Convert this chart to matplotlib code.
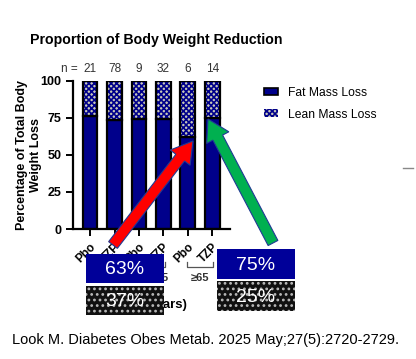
import matplotlib
matplotlib.use("Agg")
import matplotlib.pyplot as plt
from matplotlib.patches import Rectangle, FancyArrow
import numpy as np

plt.rcParams['font.family'] = ['Liberation Sans', 'DejaVu Sans']
plt.rcParams['hatch.linewidth'] = 1.2

treatments = ["Pbo", "TZP", "Pbo", "TZP", "Pbo", "TZP"]
n_values = [21, 78, 9, 32, 6, 14]
fat_loss = [76, 73.5, 74, 74, 62, 75]
lean_loss = [100 - v for v in fat_loss]
age_groups = ["<50", "50-<65", "\u226565"]
callout_fat = ["63%", "75%"]
callout_lean = ["37%", "25%"]

W, H = 416, 359
fig = plt.figure(figsize=(W / 100, H / 100), dpi=100)

def fx(px):
    return px / W

def fy(py):
    return 1 - py / H

ax_w = 230 - 73
ax = fig.add_axes([fx(73), fy(229), fx(230) - fx(73), fy(80.7) - fy(229)])
x = np.arange(len(treatments))
navy = "#00008B"
lean_face = "#c8c8b8"
ax.bar(x, fat_loss, width=0.6, color=navy, edgecolor="black", linewidth=1.6, zorder=2)
ax.bar(x, lean_loss, bottom=fat_loss, width=0.6, color=lean_face, edgecolor=navy,
       hatch="xxxxxx", linewidth=0, zorder=2)
ax.bar(x, lean_loss, bottom=fat_loss, width=0.6, color="none", edgecolor="black",
       linewidth=1.6, zorder=3)
ax.set_xlim(-0.7, 5.73)
ax.set_ylim(0, 100)
ax.set_yticks([0, 25, 50, 75, 100])
ax.set_yticklabels(["0", "25", "50", "75", "100"], fontweight="bold", fontsize=9)
ax.set_xticks(x)
ax.set_xticklabels(treatments, rotation=45, ha="right", rotation_mode="anchor",
                   fontweight="bold", fontsize=8.5)
for s in ["top", "right"]:
    ax.spines[s].set_visible(False)
for s in ["left", "bottom"]:
    ax.spines[s].set_linewidth(1.6)
ax.tick_params(axis="both", width=1.4, length=5)
ax.set_ylabel("Percentage of Total Body\nWeight Loss", fontweight="bold", fontsize=9,
              linespacing=1.25)
ax.yaxis.set_label_coords((42 - 73) / ax_w, 0.5)

# n row
ax.text(-0.5, 1.04, "n =", transform=ax.get_xaxis_transform(), ha="right",
        va="bottom", fontsize=8.5, color="#333333")
for xi, n in zip(x, n_values):
    ax.text(xi, 1.04, str(n), transform=ax.get_xaxis_transform(), ha="center",
            va="bottom", fontsize=8.5, color="#333333")

# Group brackets and labels
for gi, g in enumerate(age_groups):
    x0, x1 = 2 * gi - 0.05, 2 * gi + 1.05
    ytr = ax.get_xaxis_transform()
    yb = -0.255
    ax.plot([x0, x0, x1, x1], [yb + 0.03, yb, yb, yb + 0.03], transform=ytr,
            color="#555555", lw=0.9, clip_on=False)
    ax.text((x0 + x1) / 2, yb - 0.045, g, transform=ytr, ha="center", va="top",
            fontsize=8, fontweight="bold", color="#333333")
ax.text(2.5, -0.47, "Age (years)", transform=ax.get_xaxis_transform(), ha="center",
        va="top", fontsize=9.5, fontweight="bold")

# Legend
ax.legend(handles=[Rectangle((0, 0), 1, 1, facecolor=navy, edgecolor="black", lw=1.2),
                   Rectangle((0, 0), 1, 1, facecolor=lean_face, edgecolor=navy, hatch="xxxxxx", lw=0)],
          labels=["Fat Mass Loss", "Lean Mass Loss"], loc="upper left",
          bbox_to_anchor=(fx(253), fy(76)), bbox_transform=fig.transFigure,
          frameon=False, fontsize=8.7, handlelength=1.2, handleheight=0.6,
          labelspacing=0.8, handletextpad=0.8)

fig.text(fx(30), fy(40), "Proportion of Body Weight Reduction", fontsize=10.2,
         fontweight="bold", ha="left", va="center")
fig.text(fx(12), fy(340), "Look M. Diabetes Obes Metab. 2025 May;27(5):2720-2729.",
         fontsize=10.5, ha="left", va="center")

# Overlay in pixel coords
ov = fig.add_axes([0, 0, 1, 1], facecolor="none")
ov.set_xlim(0, W)
ov.set_ylim(H, 0)
ov.axis("off")

ov.plot([403, 413], [168, 168], color="#888888", lw=1)

def arrow(x0, y0, x1, y1, color):
    ov.add_patch(FancyArrow(x0, y0, x1 - x0, y1 - y0, width=11, head_width=25,
                            head_length=21, length_includes_head=True,
                            facecolor=color, edgecolor="#1f3a93", lw=0.8, zorder=5))

arrow(113, 245, 193, 141, "#ff0000")
arrow(273, 243, 208, 119, "#00b050")

boxes = [(86, 254, 78, 29, 286, 29), (217, 249, 78, 30, 281, 30)]
for (bx, by, bw, bh, ly, lh), ft, lt in zip(boxes, callout_fat, callout_lean):
    ov.add_patch(Rectangle((bx, by), bw, bh, facecolor="#000099", edgecolor="none", zorder=6))
    ov.text(bx + bw / 2, by + bh / 2 + 1, ft, color="white", fontsize=14,
            ha="center", va="center", zorder=7)
    ov.add_patch(Rectangle((bx, ly), bw, lh, facecolor="#111111", edgecolor="#bbbbbb",
                           hatch="...", lw=0, zorder=6))
    ov.text(bx + bw / 2, ly + lh / 2 + 1, lt, color="white", fontsize=14,
            ha="center", va="center", zorder=7)

fig.savefig("out.png", dpi=100)
